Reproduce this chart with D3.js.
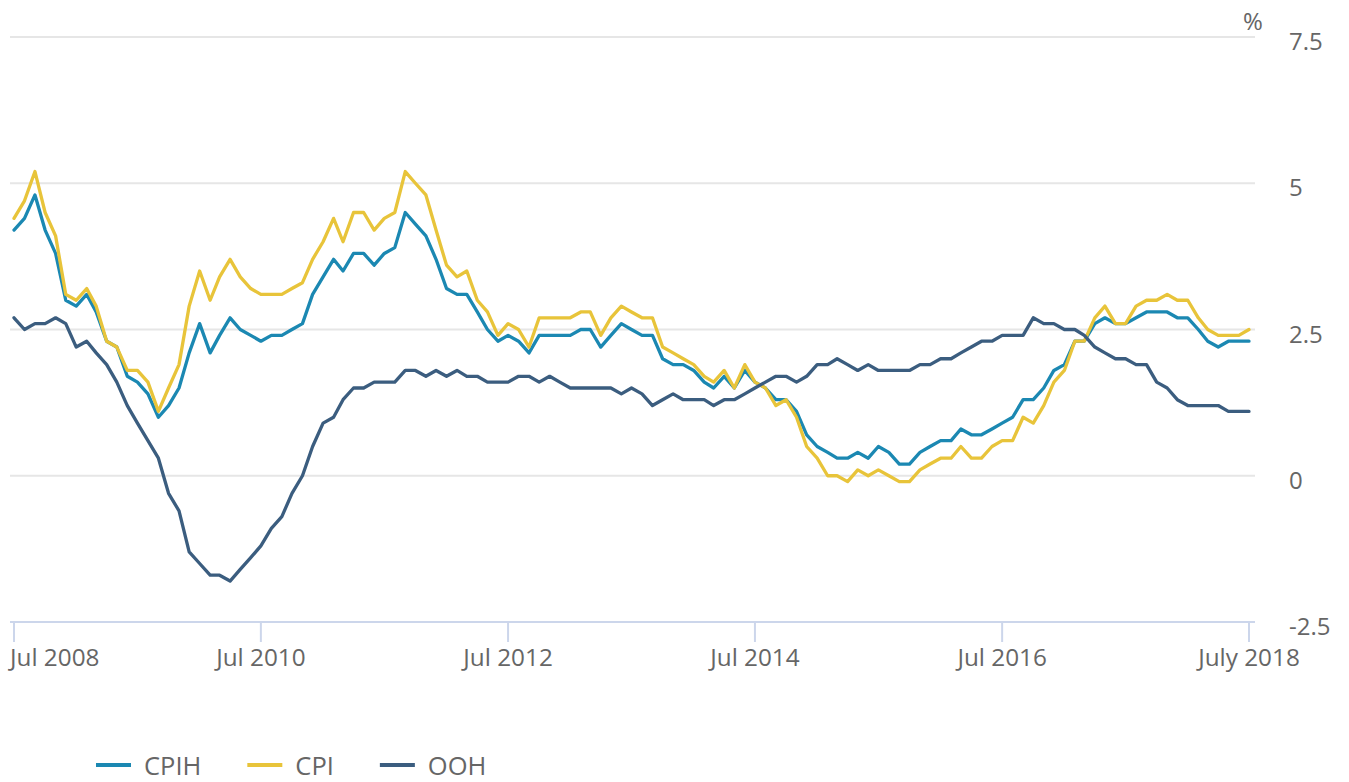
<!DOCTYPE html>
<html>
<head>
<meta charset="utf-8">
<script src="https://cdn.jsdelivr.net/npm/d3@7"></script>
<style>
  html, body { margin: 0; padding: 0; background: #fff; }
  svg { display: block; font-family: "Open Sans", "Noto Sans", sans-serif; }
</style>
</head>
<body>
<svg id="chart" width="1349" height="782"></svg>
<script>
// ---- Data (monthly, Jul 2008 – Jul 2018), % 12-month rate ----
const startMonth = "2008-07";
const seriesNames = ["CPIH", "CPI", "OOH"];
const seriesColors = ["#1b88b2", "#e8c43a", "#3b5d7f"];

const cpih = [
  4.2, 4.4, 4.8, 4.2, 3.8, 3.0, 2.9, 3.1, 2.8, 2.3,
  2.2, 1.7, 1.6, 1.4, 1.0, 1.2, 1.5, 2.1, 2.6, 2.1,
  2.4, 2.7, 2.5, 2.4, 2.3, 2.4, 2.4, 2.5, 2.6, 3.1,
  3.4, 3.7, 3.5, 3.8, 3.8, 3.6, 3.8, 3.9, 4.5, 4.3,
  4.1, 3.7, 3.2, 3.1, 3.1, 2.8, 2.5, 2.3, 2.4, 2.3,
  2.1, 2.4, 2.4, 2.4, 2.4, 2.5, 2.5, 2.2, 2.4, 2.6,
  2.5, 2.4, 2.4, 2.0, 1.9, 1.9, 1.8, 1.6, 1.5, 1.7,
  1.5, 1.8, 1.6, 1.5, 1.3, 1.3, 1.1, 0.7, 0.5, 0.4,
  0.3, 0.3, 0.4, 0.3, 0.5, 0.4, 0.2, 0.2, 0.4, 0.5,
  0.6, 0.6, 0.8, 0.7, 0.7, 0.8, 0.9, 1.0, 1.3, 1.3,
  1.5, 1.8, 1.9, 2.3, 2.3, 2.6, 2.7, 2.6, 2.6, 2.7,
  2.8, 2.8, 2.8, 2.7, 2.7, 2.5, 2.3, 2.2, 2.3, 2.3,
  2.3
];
const cpi = [
  4.4, 4.7, 5.2, 4.5, 4.1, 3.1, 3.0, 3.2, 2.9, 2.3,
  2.2, 1.8, 1.8, 1.6, 1.1, 1.5, 1.9, 2.9, 3.5, 3.0,
  3.4, 3.7, 3.4, 3.2, 3.1, 3.1, 3.1, 3.2, 3.3, 3.7,
  4.0, 4.4, 4.0, 4.5, 4.5, 4.2, 4.4, 4.5, 5.2, 5.0,
  4.8, 4.2, 3.6, 3.4, 3.5, 3.0, 2.8, 2.4, 2.6, 2.5,
  2.2, 2.7, 2.7, 2.7, 2.7, 2.8, 2.8, 2.4, 2.7, 2.9,
  2.8, 2.7, 2.7, 2.2, 2.1, 2.0, 1.9, 1.7, 1.6, 1.8,
  1.5, 1.9, 1.6, 1.5, 1.2, 1.3, 1.0, 0.5, 0.3, 0.0,
  0.0, -0.1, 0.1, 0.0, 0.1, 0.0, -0.1, -0.1, 0.1, 0.2,
  0.3, 0.3, 0.5, 0.3, 0.3, 0.5, 0.6, 0.6, 1.0, 0.9,
  1.2, 1.6, 1.8, 2.3, 2.3, 2.7, 2.9, 2.6, 2.6, 2.9,
  3.0, 3.0, 3.1, 3.0, 3.0, 2.7, 2.5, 2.4, 2.4, 2.4,
  2.5
];
const ooh = [
  2.7, 2.5, 2.6, 2.6, 2.7, 2.6, 2.2, 2.3, 2.1, 1.9,
  1.6, 1.2, 0.9, 0.6, 0.3, -0.3, -0.6, -1.3, -1.5, -1.7,
  -1.7, -1.8, -1.6, -1.4, -1.2, -0.9, -0.7, -0.3, 0.0, 0.5,
  0.9, 1.0, 1.3, 1.5, 1.5, 1.6, 1.6, 1.6, 1.8, 1.8,
  1.7, 1.8, 1.7, 1.8, 1.7, 1.7, 1.6, 1.6, 1.6, 1.7,
  1.7, 1.6, 1.7, 1.6, 1.5, 1.5, 1.5, 1.5, 1.5, 1.4,
  1.5, 1.4, 1.2, 1.3, 1.4, 1.3, 1.3, 1.3, 1.2, 1.3,
  1.3, 1.4, 1.5, 1.6, 1.7, 1.7, 1.6, 1.7, 1.9, 1.9,
  2.0, 1.9, 1.8, 1.9, 1.8, 1.8, 1.8, 1.8, 1.9, 1.9,
  2.0, 2.0, 2.1, 2.2, 2.3, 2.3, 2.4, 2.4, 2.4, 2.7,
  2.6, 2.6, 2.5, 2.5, 2.4, 2.2, 2.1, 2.0, 2.0, 1.9,
  1.9, 1.6, 1.5, 1.3, 1.2, 1.2, 1.2, 1.2, 1.1, 1.1,
  1.1
];

const yTicks = [-2.5, 0, 2.5, 5, 7.5];
const yTickLabels = ["-2.5", "0", "2.5", "5", "7.5"];
const xTickDates = ["2008-07", "2010-07", "2012-07", "2014-07", "2016-07", "2018-07"];
const xTickLabels = ["Jul 2008", "Jul 2010", "Jul 2012", "Jul 2014", "Jul 2016", "July 2018"];
const yUnit = "%";

// ---- Build ----
const parseMonth = d3.timeParse("%Y-%m");
const t0 = parseMonth(startMonth);
const dates = cpih.map((_, i) => d3.timeMonth.offset(t0, i));
const allSeries = [cpih, cpi, ooh];

const svg = d3.select("#chart");
const x = d3.scaleTime().domain([t0, dates[dates.length - 1]]).range([14, 1249]);
const y = d3.scaleLinear().domain([-2.5, 7.5]).range([622, 37]);

const gridX0 = 10, gridX1 = 1255;

// gridlines
svg.append("g").selectAll("line")
  .data(yTicks.filter(v => v !== -2.5))
  .join("line")
  .attr("x1", gridX0).attr("x2", gridX1)
  .attr("y1", d => y(d)).attr("y2", d => y(d))
  .attr("stroke", "#e6e6e6").attr("stroke-width", 2);

// y labels (right)
svg.append("g").selectAll("text")
  .data(yTicks)
  .join("text")
  .attr("x", 1289)
  .attr("y", d => y(d) + 13)
  .attr("fill", "#666")
  .attr("font-size", 24)
  .text((d, i) => yTickLabels[i]);

svg.append("text")
  .attr("x", 1253).attr("y", 30)
  .attr("text-anchor", "middle")
  .attr("fill", "#666")
  .attr("font-size", 24)
  .text(yUnit);

// x axis line
svg.append("line")
  .attr("x1", gridX0).attr("x2", gridX1)
  .attr("y1", y(-2.5)).attr("y2", y(-2.5))
  .attr("stroke", "#ccd6eb").attr("stroke-width", 2);

const xg = svg.append("g");
xTickDates.forEach((ds, i) => {
  const xv = x(parseMonth(ds));
  xg.append("line")
    .attr("x1", xv).attr("x2", xv)
    .attr("y1", y(-2.5)).attr("y2", y(-2.5) + 20)
    .attr("stroke", "#ccd6eb").attr("stroke-width", 2);
  xg.append("text")
    .attr("x", i === 0 ? 10 : xv)
    .attr("y", 666)
    .attr("text-anchor", i === 0 ? "start" : "middle")
    .attr("fill", "#666")
    .attr("font-size", 24.3)
    .text(xTickLabels[i]);
});

// lines
const line = d3.line()
  .x((d, i) => x(dates[i]))
  .y(d => y(d));

svg.append("g").selectAll("path")
  .data(allSeries)
  .join("path")
  .attr("d", d => line(d))
  .attr("fill", "none")
  .attr("stroke", (d, i) => seriesColors[i])
  .attr("stroke-width", 3.3)
  .attr("stroke-linejoin", "round")
  .attr("stroke-linecap", "round");

// legend
const lg = svg.append("g");
let lx = 96;
seriesNames.forEach((name, i) => {
  lg.append("line")
    .attr("x1", lx).attr("x2", lx + 35)
    .attr("y1", 765).attr("y2", 765)
    .attr("stroke", seriesColors[i]).attr("stroke-width", 4);
  const t = lg.append("text")
    .attr("x", lx + 48).attr("y", 775)
    .attr("fill", "#666")
    .attr("font-size", 25.5)
    .text(name);
  lx = lx + 48 + t.node().getComputedTextLength() + 46;
});
</script>
</body>
</html>
